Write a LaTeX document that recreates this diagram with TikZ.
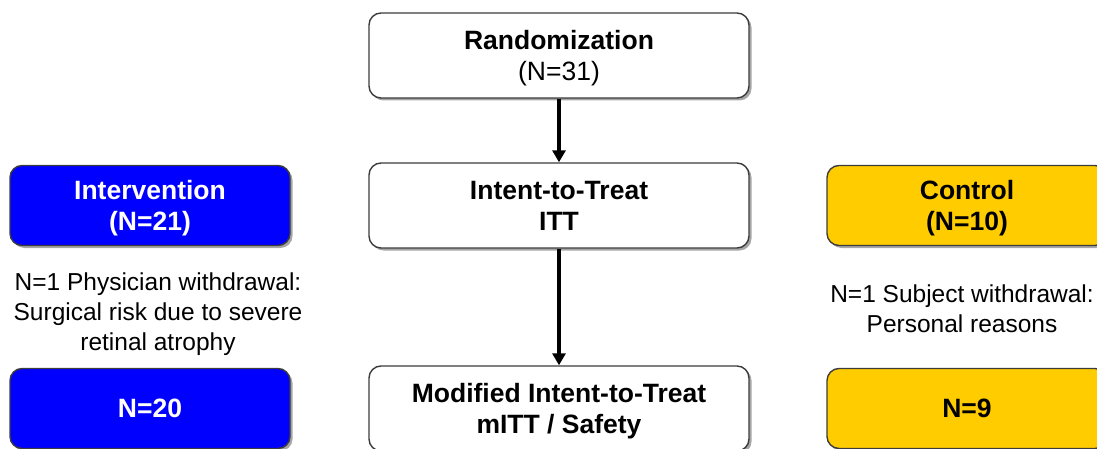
\documentclass[tikz,border=0pt]{standalone}
\usepackage{fontspec}
\setmainfont{Liberation Sans}
\usetikzlibrary{shadows,arrows.meta}
\definecolor{boxline}{HTML}{3C3C3C}
\definecolor{intblue}{HTML}{0000FF}
\definecolor{ctlyellow}{HTML}{FFCC00}
\tikzset{
  flowbox/.style={draw=boxline, line width=1.4pt, rounded corners=12pt,
    inner sep=0pt, align=center, text depth=-5pt,
    font=\fontsize{26.5}{31}\selectfont\bfseries,
    drop shadow={shadow xshift=2.5pt, shadow yshift=-2.5pt, opacity=0.35, fill=black}},
  whitebox/.style={flowbox, fill=white, minimum width=380pt, minimum height=85pt},
  sidebox/.style={flowbox, minimum width=280pt, minimum height=80pt},
  bluebox/.style={sidebox, fill=intblue, text=white},
  yellowbox/.style={sidebox, fill=ctlyellow, text=black},
  note/.style={align=center, inner sep=0pt, font=\fontsize{24.5}{30}\selectfont},
  flowarrow/.style={line width=3.6pt, -{Triangle[width=13pt,length=12pt]}}
}
\begin{document}
\begin{tikzpicture}[x=1pt,y=-1pt]
\useasboundingbox (0,0) rectangle (1097,449);
\node[whitebox] (rand) at (559,55.5) {Randomization\\\mdseries (N=31)};
\node[whitebox] (itt) at (559,205.5) {Intent-to-Treat\\ITT};
\node[whitebox] (mitt) at (559,408.5) {Modified Intent-to-Treat\\mITT / Safety};
\node[bluebox] (int) at (150,205.5) {Intervention\\(N=21)};
\node[yellowbox] (ctl) at (967,205.5) {Control\\(N=10)};
\node[bluebox] (n20) at (150,408.5) {N=20};
\node[yellowbox] (n9) at (967,408.5) {N=9};
\node[note] (intnote) at (158,314) {N=1 Physician withdrawal:\\Surgical risk due to severe\\retinal atrophy};
\node[note] (ctlnote) at (962,309) {N=1 Subject withdrawal:\\Personal reasons};
\draw[flowarrow] (rand) -- (itt);
\draw[flowarrow] (itt) -- (mitt);
\end{tikzpicture}
\end{document}
